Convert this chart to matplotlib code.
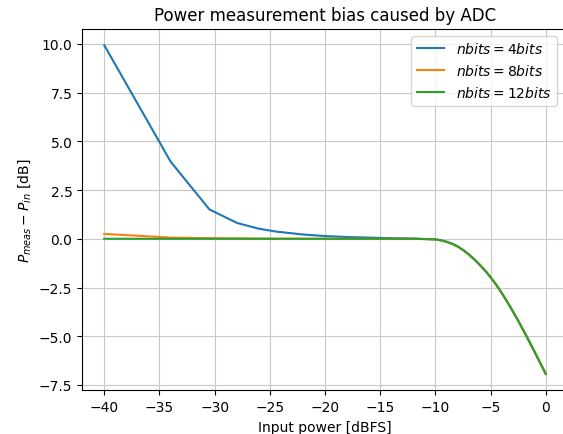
import matplotlib
matplotlib.use("Agg")
import matplotlib.pyplot as plt

# input power grid [dBFS]
p_in = [-40, -33.98, -30.46, -27.96, -26.02, -24.44, -22, -20, -18, -16, -14, -12,
        -10, -9.5, -9, -8.5, -8, -7.5, -7, -6.5, -6, -5.5, -5, -4.5, -4, -3.5,
        -3, -2.5, -2, -1.5, -1, -0.5, 0]

# clipping part, common to all resolutions
tail = [-0.03, -0.08, -0.15, -0.25, -0.39, -0.57, -0.79, -1.04, -1.32, -1.63, -1.97,
        -2.35, -2.77, -3.22, -3.70, -4.20, -4.72, -5.26, -5.81, -6.37, -6.93]

# measured bias [dB] per ADC resolution
bias_4bits = [9.93, 3.95, 1.5, 0.81, 0.52, 0.37, 0.22, 0.14, 0.09, 0.06, 0.03, 0.01] + tail
bias_8bits = [0.25, 0.06, 0.03, 0.02, 0.01, 0.0, 0.0, 0.0, 0.0, 0.0, 0.0, 0.0] + tail
bias_12bits = [0.0, 0.0, 0.0, 0.0, 0.0, 0.0, 0.0, 0.0, 0.0, 0.0, 0.0, 0.0] + tail

fig = plt.figure(figsize=(5.63, 4.35), dpi=100)
ax = fig.add_axes([0.146, 0.1005, 0.8625, 0.831])

ax.plot(p_in, bias_4bits, label="$nbits = 4bits$")
ax.plot(p_in, bias_8bits, label="$nbits = 8bits$")
ax.plot(p_in, bias_12bits, label="$nbits = 12bits$")

ax.set_title("Power measurement bias caused by ADC")
ax.set_xlabel("Input power [dBFS]")
ax.set_ylabel("$P_{meas} - P_{in}$ [dB]")
ax.set_xticks([-40, -35, -30, -25, -20, -15, -10, -5, 0])
ax.grid(True, color="#c8c8c8")
ax.legend(loc="upper right", bbox_to_anchor=(0.992, 1.0))

fig.savefig("out.png", dpi=100)
